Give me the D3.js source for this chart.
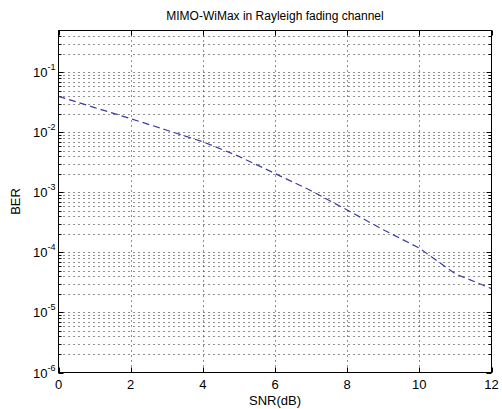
<!DOCTYPE html>
<html>
<head>
<meta charset="utf-8">
<title>MIMO-WiMax BER</title>
<script src="https://cdn.jsdelivr.net/npm/d3@7"></script>
<style>
    body { margin: 0; background: #fff; }
    text { font-family: "Liberation Sans", Arial, sans-serif; fill: #000; }
    .grid line { stroke: #222; stroke-width: 1; stroke-dasharray: 1,4; }
</style>
</head>
<body>
<script>
// values
var snr = [0, 1, 2, 3, 4, 5, 6, 7, 8, 9, 10, 11, 12];
var ber = [0.040, 0.026, 0.017, 0.0109, 0.0070, 0.0040, 0.00207, 0.00107, 5.1e-4, 2.4e-4, 1.18e-4, 4.4e-5, 2.5e-5];
var xTicks = [0, 2, 4, 6, 8, 10, 12];
var yDecades = [-6, -5, -4, -3, -2, -1];

var width = 502, height = 409;
var pl = 58.5, pr = 491.5, pt = 30.5, pb = 372.5;

var x = d3.scaleLinear().domain([0, 12]).range([pl, pr]);
var y = d3.scaleLog().domain([1e-6, 0.5]).range([pb, pt]);

var svg = d3.select("body").append("svg")
        .attr("width", width)
        .attr("height", height);

// minor + major log positions
var yAll = [];
yDecades.forEach(function (e) {
    for (var k = 1; k <= 9; k++) {
        var v = k * Math.pow(10, e);
        if (v > 1e-6 && v < 0.5) yAll.push(v);
    }
});
var yMajor = yDecades.map(function (e) { return Math.pow(10, e); });

var grid = svg.append("g").attr("class", "grid");
grid.selectAll(".h").data(yAll).enter().append("line")
        .attr("x1", pl).attr("x2", pr)
        .attr("y1", function (d) { return Math.round(y(d)) + 0.5; })
        .attr("y2", function (d) { return Math.round(y(d)) + 0.5; });
grid.selectAll(".v").data(xTicks.slice(1, -1)).enter().append("line")
        .attr("x1", function (d) { return Math.round(x(d)) + 0.5; })
        .attr("x2", function (d) { return Math.round(x(d)) + 0.5; })
        .attr("y1", pt).attr("y2", pb);

// ticks inside the box
var ticks = svg.append("g").attr("stroke", "#000").attr("stroke-width", 1);
yAll.concat([1e-6]).forEach(function (v) {
    var len = yMajor.indexOf(v) >= 0 ? 5 : 3;
    var yy = Math.round(y(v)) + 0.5;
    ticks.append("line").attr("x1", pl).attr("x2", pl + len).attr("y1", yy).attr("y2", yy);
    ticks.append("line").attr("x1", pr).attr("x2", pr - len).attr("y1", yy).attr("y2", yy);
});
xTicks.forEach(function (v) {
    var xx = Math.round(x(v)) + 0.5;
    ticks.append("line").attr("x1", xx).attr("x2", xx).attr("y1", pb).attr("y2", pb - 5);
    ticks.append("line").attr("x1", xx).attr("x2", xx).attr("y1", pt).attr("y2", pt + 5);
});

// data line
var line = d3.line()
        .x(function (d, i) { return x(snr[i]); })
        .y(function (d) { return y(d); });
svg.append("path")
        .datum(ber)
        .attr("d", line)
        .attr("fill", "none")
        .attr("stroke", "#3b3ba6")
        .attr("stroke-width", 1.2)
        .attr("stroke-dasharray", "7,4");

// box
svg.append("rect")
        .attr("x", pl).attr("y", pt)
        .attr("width", pr - pl).attr("height", pb - pt)
        .attr("fill", "none").attr("stroke", "#000");

// x tick labels
svg.selectAll(".xl").data(xTicks).enter().append("text")
        .attr("x", function (d) { return x(d); })
        .attr("y", 389)
        .attr("text-anchor", "middle")
        .attr("font-size", 13)
        .text(function (d) { return d; });

// y tick labels: 10^e
yDecades.forEach(function (e) {
    var t = svg.append("text")
            .attr("x", 33)
            .attr("y", y(Math.pow(10, e)) + 5)
            .attr("font-size", 13);
    t.append("tspan").text("10");
    t.append("tspan").attr("dy", -7).attr("font-size", 9).text(e);
});

svg.append("text")
        .attr("x", (pl + pr) / 2)
        .attr("y", 405)
        .attr("text-anchor", "middle")
        .attr("font-size", 13)
        .text("SNR(dB)");

svg.append("text")
        .attr("transform", "translate(20," + ((pt + pb) / 2) + ") rotate(-90)")
        .attr("text-anchor", "middle")
        .attr("font-size", 13)
        .text("BER");

svg.append("text")
        .attr("x", (pl + pr) / 2)
        .attr("y", 20)
        .attr("text-anchor", "middle")
        .attr("font-size", 12)
        .text("MIMO-WiMax in Rayleigh fading channel");
</script>
</body>
</html>
